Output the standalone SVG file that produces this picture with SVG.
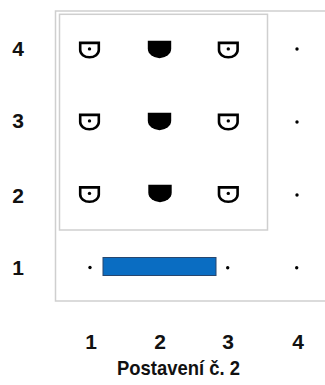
<svg xmlns="http://www.w3.org/2000/svg" width="325" height="385" viewBox="0 0 325 385">
<style>
.frame{fill:none;stroke:#cfcfcf;stroke-width:1.5}
.lbl{font-family:"Liberation Sans",Arial,sans-serif;font-weight:bold;font-size:21px;fill:#111;text-anchor:middle}
.title{font-family:"Liberation Sans",Arial,sans-serif;font-weight:bold;font-size:21px;fill:#111;text-anchor:middle}
.open{fill:#fff;stroke:#000;stroke-width:2.6}
.full{fill:#000}
.dot{fill:#000}
</style>
<defs>
<g id="openIcon"><path class="open" d="M-9.3,-6.6 H9.3 V0.5 A9.3,7.3 0 0 1 -9.3,0.5 Z"/><circle cx="0" cy="-0.6" r="1.7" class="dot"/></g>
<path id="fullIcon" class="full" d="M-11.7,-8.7 H11.7 V-1 A11.7,9.7 0 0 1 -11.7,-1 Z"/>
</defs>
<g id="frames">
<rect class="frame" x="55.5" y="11" width="285" height="290"/>
<rect class="frame" x="59.5" y="14.3" width="208" height="215.7"/>
</g>
<g id="row-labels">
<text class="lbl" x="18" y="56">4</text>
<text class="lbl" x="18" y="128">3</text>
<text class="lbl" x="18" y="203">2</text>
<text class="lbl" x="18" y="274.5">1</text>
</g>
<g id="col-labels">
<text class="lbl" x="91" y="348.5">1</text>
<text class="lbl" x="160" y="348.5">2</text>
<text class="lbl" x="228" y="348.5">3</text>
<text class="lbl" x="298" y="348.5">4</text>
</g>
<g id="row4">
<use href="#openIcon" x="89.5" y="49.5"/>
<use href="#fullIcon" x="159.5" y="49.5"/>
<use href="#openIcon" x="228.3" y="49.5"/>
<circle class="dot" cx="297" cy="49" r="1.7"/>
</g>
<g id="row3">
<use href="#openIcon" x="89.5" y="121.5"/>
<use href="#fullIcon" x="159.5" y="121.5"/>
<use href="#openIcon" x="228.3" y="121.5"/>
<circle class="dot" cx="297" cy="122" r="1.7"/>
</g>
<g id="row2">
<use href="#openIcon" x="89.5" y="194"/>
<use href="#fullIcon" x="160" y="193.5"/>
<use href="#openIcon" x="228.3" y="194"/>
<circle class="dot" cx="297" cy="195" r="1.7"/>
</g>
<g id="row1">
<circle class="dot" cx="90" cy="267.5" r="1.7"/>
<rect id="bar" x="103" y="257.5" width="113" height="18" fill="#0A6DC2" stroke="#27466E" stroke-width="1"/>
<circle class="dot" cx="227.7" cy="267.7" r="1.7"/>
<circle class="dot" cx="296.7" cy="267.7" r="1.7"/>
</g>
<text class="title" x="178.5" y="375" textLength="123" lengthAdjust="spacingAndGlyphs">Postavení č. 2</text>
</svg>
